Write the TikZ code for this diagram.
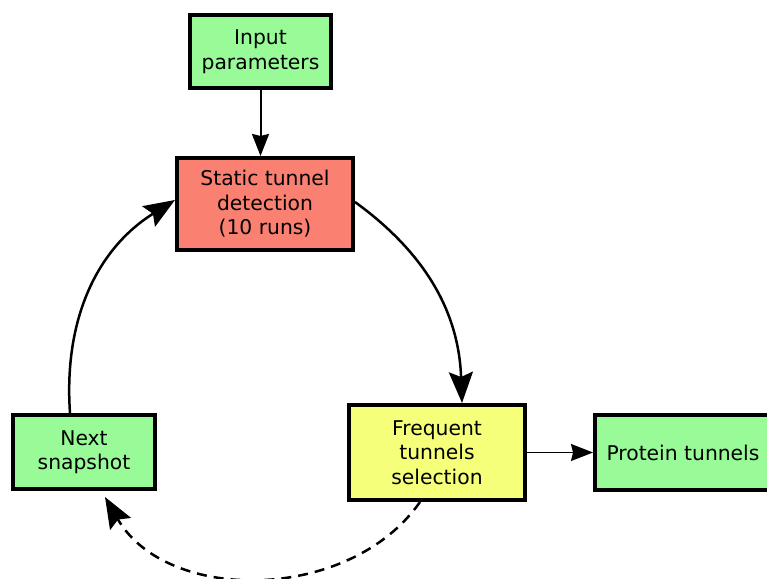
\documentclass[tikz,border=0pt]{standalone}
\usepackage{fontspec}
\setmainfont{DejaVu Sans}
\usetikzlibrary{arrows.meta,positioning}
\definecolor{boxgreen}{RGB}{152,251,152}
\definecolor{boxred}{RGB}{250,128,114}
\definecolor{boxyellow}{RGB}{245,255,122}

\begin{document}
\begin{tikzpicture}[x=1pt, y=1pt,
  box/.style={draw, line width=4pt, minimum width=176pt, minimum height=92pt,
    inner sep=0pt, align=center, font=\fontsize{20.3}{24.5}\selectfont},
  link/.style={line width=2pt, -{Stealth[length=22pt, width=17pt, inset=2pt]}},
  loop/.style={line width=2.5pt, -{Stealth[length=31pt, width=24pt, inset=5pt]}}]

\useasboundingbox (0,0) rectangle (767,578);
\clip (0,0) rectangle (767,578);

\node[box, fill=boxred] (detect) at (265,374) {Static tunnel\\detection\\(10 runs)};
\node[box, fill=boxgreen, minimum width=141pt, minimum height=73pt,
      above=66pt of detect, xshift=-4.5pt] (input) {Input\\parameters};
\node[box, fill=boxyellow, minimum height=95pt] (select) at (437,125.5)
      {Frequent\\tunnels\\selection};
\node[box, fill=boxgreen, minimum height=75pt, right=66pt of select] (result)
      {Protein tunnels};
\node[box, fill=boxgreen, minimum width=142pt, minimum height=74pt] (next) at (84,126)
      {Next\\snapshot};

% main loop
\draw[link] (input.south) -- (input.south |- detect.north);
\draw[loop] ([yshift=2pt]detect.east) to[out=-36, in=92] ([xshift=25pt]select.north);
\draw[link, line width=1.5pt] (select) -- (result);
\draw[loop, dash pattern=on 10pt off 7pt] ([xshift=-17pt]select.south)
      to[out=235, in=-60] ([xshift=21pt, yshift=-6pt]next.south);
\draw[loop] ([xshift=-14pt]next.north) to[out=94, in=212] ([yshift=4pt]detect.west);

\end{tikzpicture}
\end{document}
